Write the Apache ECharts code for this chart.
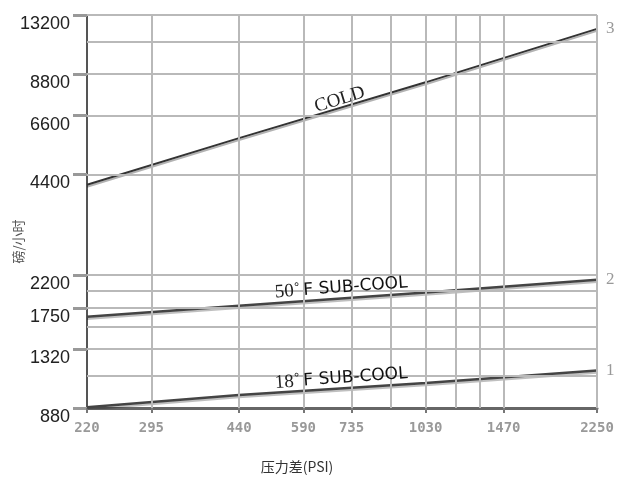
<!DOCTYPE html>
<html>
<head>
<meta charset="utf-8">
<script src="https://cdn.jsdelivr.net/npm/echarts@6/dist/echarts.min.js"></script>
<style>
  html, body { margin: 0; padding: 0; background: #fff; }
  #chart { width: 621px; height: 478px; }
</style>
</head>
<body>
<div id="chart"></div>
<script>
// 压力差 (PSI)
const pressure = [220, 440, 1030, 2250];
// 流量 磅/小时，三条曲线
const cold = [4100, 5650, 8300, 12000];
const subCool50 = [1650, 1780, 1950, 2130];
const subCool18 = [885, 963, 1045, 1140];

// 刻度和网格
const xTicks = [220, 295, 440, 590, 735, 1030, 1470, 2250];
const yTicks = [880, 1320, 1750, 2200, 4400, 6600, 8800, 13200];
const xGrid = [295, 440, 590, 735, 880, 1030, 1180, 1320, 1470, 2250];
const yGrid = [1100, 1320, 1540, 1750, 1980, 2200, 4400, 6600, 8800, 11000, 13200];

function pairs(ys) {
  return pressure.map((p, i) => [p, ys[i]]);
}

// 沿线文字：首尾两点之间的透明 markLine
function lineText(ys, text, dist) {
  const n = pressure.length - 1;
  return {
    silent: true,
    symbol: 'none',
    lineStyle: { color: 'rgba(0,0,0,0)', width: 1 },
    label: {
      show: true,
      position: 'middle',
      formatter: text,
      color: '#111',
      distance: dist,
      rich: {
        s: { fontFamily: 'Liberation Serif', fontSize: 19, color: '#222' },
        t: { fontFamily: 'DejaVu Sans', fontSize: 17, color: '#111' }
      }
    },
    data: [[{ coord: [pressure[0], ys[0]] }, { coord: [pressure[n], ys[n]] }]]
  };
}

const chart = echarts.init(document.getElementById('chart'));

chart.setOption({
  animation: false,
  grid: { left: 87, right: 24, top: 15, bottom: 70, outerBoundsMode: 'none', containLabel: false },
  xAxis: {
    type: 'log',
    min: 220,
    max: 2250,
    name: '压力差(PSI)',
    nameLocation: 'middle',
    nameGap: 52,
    nameMoveOverlap: false,
    nameTextStyle: { color: '#333', fontSize: 14, fontFamily: 'Noto Sans CJK SC', padding: [0, 90, 0, 0] },
    axisLine: { show: true, lineStyle: { color: '#666', width: 3 } },
    axisTick: { show: true, customValues: xTicks, length: 5, lineStyle: { color: '#777', width: 2 } },
    axisLabel: {
      customValues: xTicks,
      formatter: v => String(v),
      color: '#999',
      fontSize: 14,
      fontWeight: 'bold',
      fontFamily: 'DejaVu Sans Mono',
      margin: 13
    },
    splitLine: { show: false },
    minorTick: { show: false }
  },
  yAxis: {
    type: 'log',
    min: 880,
    max: 13200,
    name: '磅/小时',
    nameLocation: 'middle',
    nameGap: 62,
    nameMoveOverlap: false,
    nameTextStyle: { color: '#555', fontSize: 13, fontFamily: 'Noto Sans CJK SC', padding: [0, 60, 0, 0] },
    axisLine: { show: true, lineStyle: { color: '#555', width: 2 } },
    axisTick: { show: true, customValues: yTicks, length: 14, lineStyle: { color: '#999', width: 3 } },
    axisLabel: {
      customValues: yTicks,
      formatter: v => String(v),
      color: '#222',
      fontSize: 18,
      fontFamily: 'Liberation Sans',
      margin: 17,
      verticalAlign: 'top'
    },
    splitLine: { show: false },
    minorTick: { show: false }
  },
  series: [
    {
      // 网格线
      type: 'line',
      data: [],
      silent: true,
      markLine: {
        silent: true,
        symbol: 'none',
        label: { show: false },
        lineStyle: { type: 'solid', color: '#b9b9b9', width: 2 },
        data: xGrid.map(v => ({ xAxis: v })).concat(yGrid.map(v => ({ yAxis: v })))
      }
    },
    {
      name: 'COLD',
      type: 'line',
      data: pairs(cold),
      showSymbol: false,
      lineStyle: { color: '#333', width: 2, shadowColor: 'rgba(0,0,0,0.3)', shadowOffsetY: 2, shadowBlur: 0 },
      endLabel: { show: true, formatter: '3', color: '#999', fontSize: 17, fontFamily: 'Liberation Serif', distance: 9 },
      markLine: lineText(cold, '{s|COLD}', -2)
    },
    {
      name: '50° F SUB-COOL',
      type: 'line',
      data: pairs(subCool50),
      showSymbol: false,
      lineStyle: { color: '#444', width: 2.5, shadowColor: 'rgba(0,0,0,0.25)', shadowOffsetY: 2, shadowBlur: 0 },
      endLabel: { show: true, formatter: '2', color: '#999', fontSize: 17, fontFamily: 'Liberation Serif', distance: 9 },
      markLine: lineText(subCool50, '{s|50˚} {t|F SUB-COOL}', 1)
    },
    {
      name: '18° F SUB-COOL',
      type: 'line',
      data: pairs(subCool18),
      showSymbol: false,
      lineStyle: { color: '#444', width: 2.5, shadowColor: 'rgba(0,0,0,0.25)', shadowOffsetY: 2, shadowBlur: 0 },
      endLabel: { show: true, formatter: '1', color: '#999', fontSize: 17, fontFamily: 'Liberation Serif', distance: 9 },
      markLine: lineText(subCool18, '{s|18˚} {t|F SUB-COOL}', 1)
    }
  ]
});
</script>
</body>
</html>
